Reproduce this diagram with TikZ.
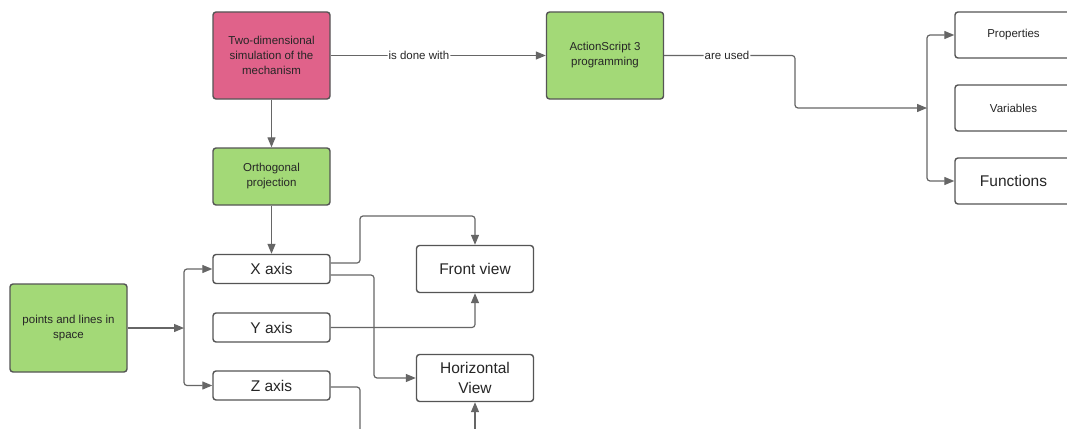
\documentclass[tikz,border=0pt]{standalone}
\usepackage{fontspec}
\setmainfont{Liberation Sans}
\usetikzlibrary{arrows.meta,calc}
\definecolor{pinkfill}{HTML}{E0628A}
\definecolor{greenfill}{HTML}{A3D977}
\definecolor{edge}{HTML}{555555}
\definecolor{conn}{HTML}{666666}
\definecolor{txt}{HTML}{262626}
\tikzset{
  box/.style={draw=edge, line width=1.4pt, rounded corners=3pt, minimum width=117pt, align=center, text=txt, inner sep=2pt},
  bigbox/.style={box, minimum height=87pt, font=\fontsize{11.5}{15}\selectfont},
  smallfont/.style={font=\fontsize{11.5}{15}\selectfont},
  largefont/.style={font=\fontsize{15.5}{19.5}\selectfont},
  arr/.style={draw=conn, line width=1.2pt, rounded corners=3pt, -{Triangle[length=10pt,width=8pt]}},
  ln/.style={draw=conn, line width=1.2pt, rounded corners=3pt},
  lbl/.style={fill=white, inner sep=1pt, text=txt, font=\fontsize{11.5}{14}\selectfont}
}
\begin{document}
\begin{tikzpicture}[x=1pt,y=-1pt]
\useasboundingbox (0,0) rectangle (1067,428);
\clip (0,0) rectangle (1067,428);
\fill[white] (0,0) rectangle (1067,428);

\node[bigbox, fill=pinkfill] (two) at (271.5,55.5) {Two-dimensional\\simulation of the\\mechanism};
\node[bigbox, fill=greenfill] (as3) at (605,55.5) {ActionScript 3\\programming};
\node[box, smallfont, minimum height=46pt] (prop) at (1013.5,35) {Properties};
\node[box, smallfont, minimum height=46pt] (var) at (1013.5,108) {Variables};
\node[box, largefont, minimum height=46pt] (func) at (1013.5,181) {Functions};
\node[box, smallfont, fill=greenfill, minimum height=57pt] (ortho) at (271.5,176.5) {Orthogonal\\projection};
\node[box, largefont, minimum height=29pt] (xaxis) at (271.5,269) {X axis};
\node[box, largefont, minimum height=29pt] (yaxis) at (271.5,327.5) {Y axis};
\node[box, largefont, minimum height=29pt] (zaxis) at (271.5,385.5) {Z axis};
\node[box, largefont, minimum height=47pt] (front) at (475,269) {Front view};
\node[box, largefont, minimum height=47pt] (horiz) at (475,378) {Horizontal\\View};
\node[box, smallfont, fill=greenfill, minimum height=88pt] (points) at (68.5,328) {points and lines in\\space};

\coordinate (br) at (927,108);
\coordinate (lb) at (184,328);
\coordinate (zend) at (360,440);
\coordinate (hend) at (475,440);

\draw[arr] (two.east) -- node[lbl, pos=0.41] {is done with} (as3.west);
\draw[arr] (as3.east) -- node[lbl, pos=0.48] {are used} (795,55.5) -- (795,108) -- (br);
\draw[arr] (br) |- (prop.west);
\draw[arr] (br) |- (func.west);

\draw[arr] (two.south) -- (ortho.north);
\draw[arr] (ortho.south) -- (xaxis.north);

\draw[arr] (points.east) -- (lb);
\draw[arr] (lb) |- (xaxis.west);
\draw[arr] (lb) |- (zaxis.west);

\draw[arr] ([yshift=6pt]xaxis.east) -- (360,263) -- (360,216) -- (475,216) -- (front.north);
\draw[arr] ([yshift=-6pt]xaxis.east) -- (374,275) -- (374,378) -- (horiz.west);
\draw[arr] (yaxis.east) -| (front.south);
\draw[ln] ([yshift=-1.5pt]zaxis.east) -| (zend);
\draw[arr] (hend) -- (horiz.south);
\end{tikzpicture}
\end{document}
